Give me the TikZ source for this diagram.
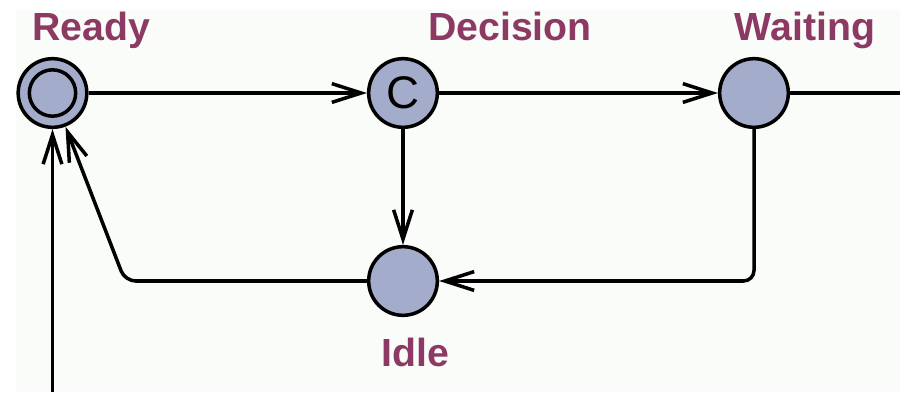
\documentclass[tikz,border=0pt]{standalone}
\usepackage{fontspec}
\setmainfont{Liberation Sans}
\usetikzlibrary{arrows.meta}
\definecolor{statefill}{RGB}{164,172,203}
\definecolor{namecolor}{RGB}{140,58,100}
\definecolor{paper}{RGB}{250,252,250}

\begin{document}
\begin{tikzpicture}[x = .03cm, y = -.03cm,
  state/.style = {circle, draw, line width = 3pt, fill = statefill, minimum size = 2.06cm, inner sep = 0pt},
  inner/.style = {circle, draw, line width = 3pt, minimum size = 1.39cm, inner sep = 0pt},
  statename/.style = {anchor = base, text = namecolor, font = \bfseries\fontsize{33.5}{36}\selectfont},
  edge/.style = {line width = 3pt},
  trans/.style = {edge, -{Straight Barb[length = 25pt, width = 16pt]}}]
\useasboundingbox (0,0) rectangle (900,392);
\fill[paper] (16,10) rectangle (900,392);

\node[state] (Ready) at (52.5,93) {};
\node[inner] (ReadyIn) at (52.5,93) {};
\node[state, font = \fontsize{39}{39}\selectfont] (Decision) at (403,93) {C};
\node[state] (Waiting) at (754,93) {};
\node[state] (Idle) at (403,281) {};

\node[statename] (ReadyName) at (91,40) {Ready};
\node[statename] (DecisionName) at (510,40) {Decision};
\node[statename] (WaitingName) at (805,40) {Waiting};
\node[statename] (IdleName) at (415,366) {Idle};

\coordinate (exit) at (900,93);
\coordinate (entry) at (52.5,392);
\coordinate (turn) at (125,281);

\draw[trans] (Ready) -- (Decision);
\draw[trans] (Decision) -- (Waiting);
\draw[edge] (Waiting) -- (exit);
\draw[trans] (Decision) -- (Idle);
\draw[trans, rounded corners = 9pt] (Waiting) |- (Idle);
\draw[trans, rounded corners = 9pt] (Idle) -- (turn) -- (Ready);
\draw[trans] (entry) -- (Ready);
\end{tikzpicture}
\end{document}
